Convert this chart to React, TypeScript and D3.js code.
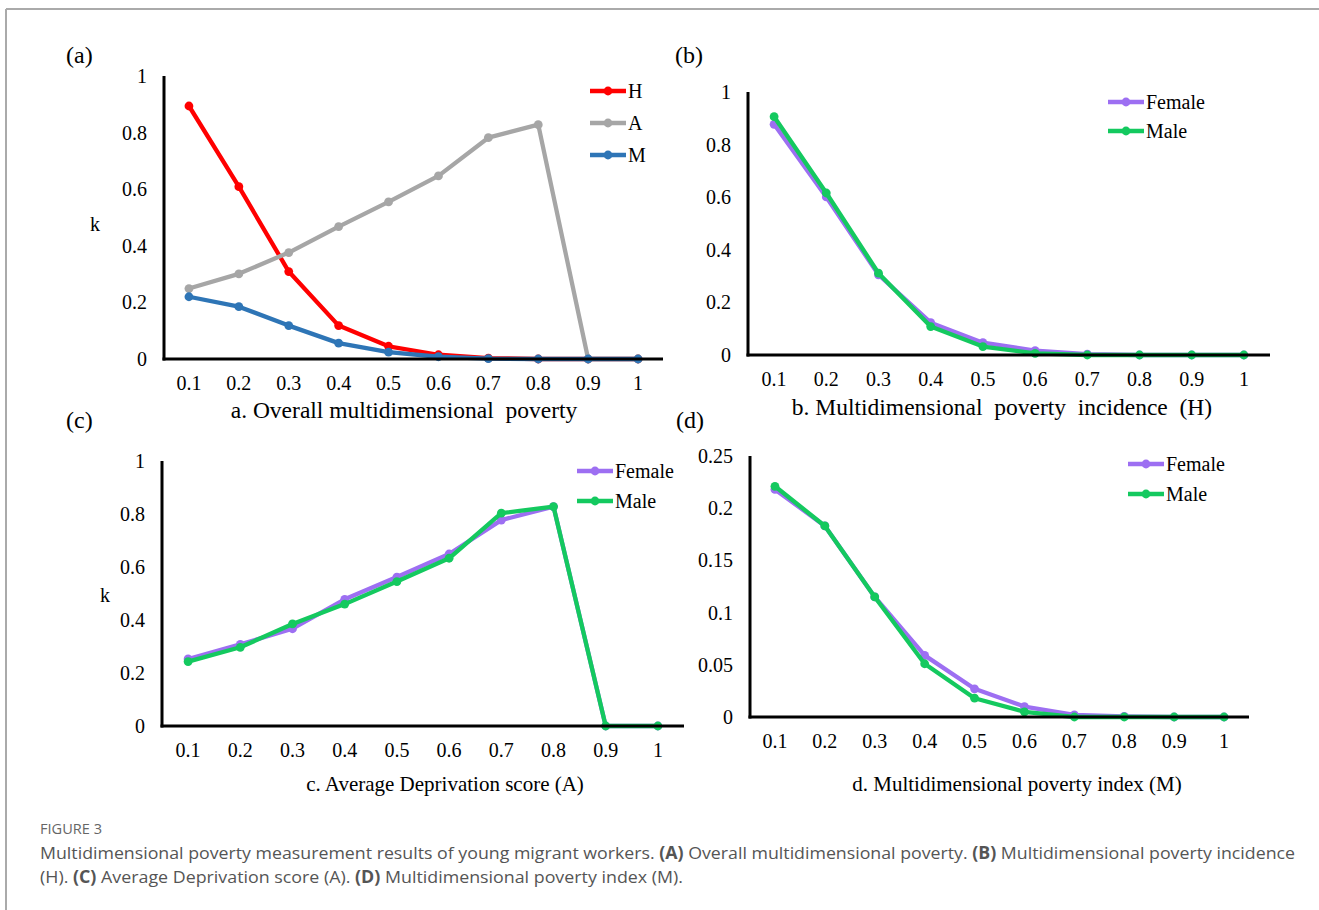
import React from 'react'
import * as d3 from 'd3'

// k thresholds on the x axis
const kLabels = ['0.1', '0.2', '0.3', '0.4', '0.5', '0.6', '0.7', '0.8', '0.9', '1']

// (a) overall multidimensional poverty
const overallH = [0.894, 0.609, 0.309, 0.118, 0.045, 0.015, 0.003, 0, 0, 0]
const overallA = [0.249, 0.301, 0.376, 0.468, 0.555, 0.647, 0.782, 0.828, 0, 0]
const overallM = [0.22, 0.185, 0.118, 0.056, 0.024, 0.008, 0.001, 0, 0, 0]

// (b) incidence H by gender
const incidenceFemale = [0.877, 0.601, 0.305, 0.123, 0.047, 0.017, 0.003, 0, 0, 0]
const incidenceMale = [0.906, 0.616, 0.311, 0.108, 0.032, 0.006, 0, 0, 0, 0]

// (c) average deprivation score A by gender
const deprivationFemale = [0.253, 0.308, 0.367, 0.478, 0.562, 0.649, 0.777, 0.828, 0, 0]
const deprivationMale = [0.243, 0.297, 0.385, 0.46, 0.545, 0.633, 0.803, 0.828, 0, 0]

// (d) poverty index M by gender
const indexFemale = [0.218, 0.183, 0.115, 0.059, 0.027, 0.01, 0.002, 0.0005, 0, 0]
const indexMale = [0.221, 0.183, 0.115, 0.051, 0.018, 0.005, 0, 0, 0, 0]

const ticksUnit = [0, 0.2, 0.4, 0.6, 0.8, 1]
const ticksIndex = [0, 0.05, 0.1, 0.15, 0.2, 0.25]

const RED = '#ff0000'
const GRAY = '#a6a6a6'
const BLUE = '#2e75b6'
const PURPLE = '#9d6ff2'
const GREEN = '#14c95f'

const serif = '"Liberation Serif", "Times New Roman", serif'

type Series = { name: string; values: number[]; color: string }

type PanelCfg = {
  tag: string
  tagX: number
  tagY: number
  left: number
  right: number
  top: number
  bottom: number
  yMax: number
  yTicks: number[]
  title: string
  titleX: number
  titleY: number
  titleSize: number
  kLabel?: [number, number]
  legendX: number
  legendY: number
  legendStep: number
  series: Series[]
}

const panels: PanelCfg[] = [
  {
    tag: '(a)', tagX: 66, tagY: 63,
    left: 164, right: 663, top: 76, bottom: 359,
    yMax: 1, yTicks: ticksUnit,
    title: 'a. Overall multidimensional  poverty', titleX: 404, titleY: 418, titleSize: 23.5,
    kLabel: [95, 224],
    legendX: 590, legendY: 91, legendStep: 32,
    series: [
      { name: 'H', values: overallH, color: RED },
      { name: 'A', values: overallA, color: GRAY },
      { name: 'M', values: overallM, color: BLUE },
    ],
  },
  {
    tag: '(b)', tagX: 675, tagY: 63,
    left: 748, right: 1270, top: 92, bottom: 355,
    yMax: 1, yTicks: ticksUnit,
    title: 'b. Multidimensional  poverty  incidence  (H)', titleX: 1002, titleY: 415, titleSize: 23.5,
    legendX: 1108, legendY: 102, legendStep: 29,
    series: [
      { name: 'Female', values: incidenceFemale, color: PURPLE },
      { name: 'Male', values: incidenceMale, color: GREEN },
    ],
  },
  {
    tag: '(c)', tagX: 66, tagY: 428,
    left: 162, right: 684, top: 461, bottom: 726,
    yMax: 1, yTicks: ticksUnit,
    title: 'c. Average Deprivation score (A)', titleX: 445, titleY: 791, titleSize: 21,
    kLabel: [105, 595],
    legendX: 577, legendY: 471, legendStep: 30,
    series: [
      { name: 'Female', values: deprivationFemale, color: PURPLE },
      { name: 'Male', values: deprivationMale, color: GREEN },
    ],
  },
  {
    tag: '(d)', tagX: 676, tagY: 428,
    left: 750, right: 1249, top: 456, bottom: 717,
    yMax: 0.25, yTicks: ticksIndex,
    title: 'd. Multidimensional poverty index (M)', titleX: 1017, titleY: 791, titleSize: 21,
    legendX: 1128, legendY: 464, legendStep: 30,
    series: [
      { name: 'Female', values: indexFemale, color: PURPLE },
      { name: 'Male', values: indexMale, color: GREEN },
    ],
  },
]

function Panel({ p }: { p: PanelCfg }) {
  const x = d3.scalePoint<string>().domain(kLabels).range([p.left, p.right]).padding(0.5)
  const y = d3.scaleLinear().domain([0, p.yMax]).range([p.bottom, p.top])
  const line = d3
    .line<number>()
    .x((_, i) => x(kLabels[i]) as number)
    .y(d => y(d))

  return (
    <g fontFamily={serif} fill="#000">
      <text x={p.tagX} y={p.tagY} fontSize={24}>{p.tag}</text>

      {/* y tick labels */}
      {p.yTicks.map(t => (
        <text key={t} x={p.left - 17} y={y(t)} dy="0.35em" fontSize={20} textAnchor="end">
          {String(t)}
        </text>
      ))}

      {/* x tick labels */}
      {kLabels.map(k => (
        <text key={k} x={x(k)} y={p.bottom + 31} fontSize={20} textAnchor="middle">{k}</text>
      ))}

      {p.kLabel && (
        <text x={p.kLabel[0]} y={p.kLabel[1]} dy="0.35em" fontSize={20} textAnchor="middle">k</text>
      )}

      <text x={p.titleX} y={p.titleY} fontSize={p.titleSize} textAnchor="middle" style={{ whiteSpace: 'pre' }}>
        {p.title}
      </text>

      {/* series */}
      {p.series.map(s => (
        <g key={s.name}>
          <path d={line(s.values) || ''} fill="none" stroke={s.color} strokeWidth={4.3} strokeLinejoin="round" />
          {s.values.map((v, i) => (
            <circle key={i} cx={x(kLabels[i])} cy={y(v)} r={4.4} fill={s.color} />
          ))}
        </g>
      ))}

      {/* axes */}
      <line x1={p.left} x2={p.left} y1={p.top} y2={p.bottom + 1.5} stroke="#000" strokeWidth={3} />
      <line x1={p.left - 1.5} x2={p.right} y1={p.bottom} y2={p.bottom} stroke="#000" strokeWidth={3} />

      {/* legend */}
      {p.series.map((s, i) => {
        const ly = p.legendY + i * p.legendStep
        return (
          <g key={s.name}>
            <line x1={p.legendX} x2={p.legendX + 36} y1={ly} y2={ly} stroke={s.color} strokeWidth={4.3} />
            <circle cx={p.legendX + 18} cy={ly} r={4.4} fill={s.color} />
            <text x={p.legendX + 38} y={ly} dy="0.35em" fontSize={20}>{s.name}</text>
          </g>
        )
      })}
    </g>
  )
}

export default function App() {
  return (
    <svg
      width={1319}
      height={910}
      style={{ position: 'absolute', left: 0, top: 0, background: '#fff' }}
    >
      <line x1={6} x2={1319} y1={9} y2={9} stroke="#aaa" strokeWidth={2} />
      <line x1={6} x2={6} y1={9} y2={910} stroke="#aaa" strokeWidth={2} />

      {panels.map(p => (
        <Panel key={p.tag} p={p} />
      ))}

      <g fontFamily='"Open Sans", "Noto Sans", sans-serif' fill="#555">
        <text x={40} y={834} fontSize={14} fill="#666" textLength={62} lengthAdjust="spacingAndGlyphs">FIGURE 3</text>
        <text x={40} y={859} fontSize={17} textLength={1255} lengthAdjust="spacingAndGlyphs">
          Multidimensional poverty measurement results of young migrant workers. <tspan fontWeight="bold">(A)</tspan> Overall multidimensional poverty. <tspan fontWeight="bold">(B)</tspan> Multidimensional poverty incidence
        </text>
        <text x={40} y={883} fontSize={17} textLength={643} lengthAdjust="spacingAndGlyphs">
          (H). <tspan fontWeight="bold">(C)</tspan> Average Deprivation score (A). <tspan fontWeight="bold">(D)</tspan> Multidimensional poverty index (M).
        </text>
      </g>
    </svg>
  )
}
